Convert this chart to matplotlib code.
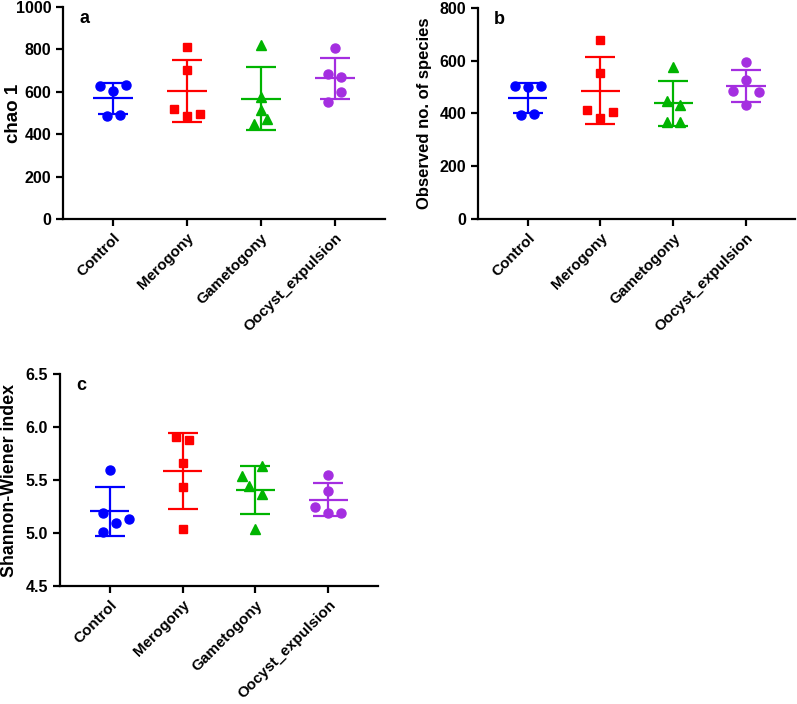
import matplotlib
matplotlib.use('Agg')
import matplotlib.pyplot as plt
import numpy as np

plt.rcParams['font.family'] = ['Liberation Sans', 'DejaVu Sans']
plt.rcParams['font.weight'] = 'bold'

GROUPS = ['Control', 'Merogony', 'Gametogony', 'Oocyst_expulsion']
COLORS = ['#0000ff', '#ff0000', '#00b400', '#a42ee0']
MARKERS = ['o', 's', '^', 'o']

# five replicates per group
CHAO1 = [
    [605, 628, 632, 487, 490],
    [812, 705, 485, 521, 495],
    [819, 576, 516, 450, 474],
    [808, 686, 670, 553, 597],
]

OBSERVED = [
    [498, 502, 503, 395, 396],
    [677, 553, 382, 414, 404],
    [575, 448, 430, 367, 367],
    [594, 526, 484, 480, 430],
]

SHANNON = [
    [5.594, 5.19, 5.135, 5.01, 5.09],
    [5.909, 5.877, 5.657, 5.434, 5.041],
    [5.535, 5.635, 5.446, 5.368, 5.038],
    [5.547, 5.393, 5.186, 5.248, 5.189],
]

FIG_W, FIG_H = 7.97, 7.04
DPI = 100


def spread(vals, ax, ylim, row_px=12.5, step_px=13.0, diam_px=10.0):
    # prism-like scatter: close values share a row, then nudge overlaps
    bbox = ax.get_position()
    px_per_y = bbox.height * FIG_H * DPI / (ylim[1] - ylim[0])
    xl = ax.get_xlim()
    px_per_x = bbox.width * FIG_W * DPI / (xl[1] - xl[0])
    ypx = np.array(vals) * px_per_y
    order = list(np.argsort(ypx, kind='stable'))
    rows = []
    for i in order:
        if rows and ypx[i] - ypx[rows[-1][0]] < row_px:
            rows[-1].append(i)
        else:
            rows.append([i])
    slots = {1: [0], 2: [-0.5, 0.5], 3: [0, -1, 1], 4: [-0.5, 0.5, -1.5, 1.5]}
    xpx = np.zeros(len(vals))
    for r in rows:
        r = sorted(r)
        for k, i in enumerate(r):
            xpx[i] = slots[len(r)][k] * step_px
    placed = []
    for i in order:
        sign = 1 if xpx[i] >= 0 else -1
        while any((xpx[i] - x) ** 2 + (ypx[i] - y) ** 2 < diam_px ** 2 for x, y in placed):
            xpx[i] += sign * step_px / 2
        placed.append((xpx[i], ypx[i]))
    return xpx / px_per_x


def panel(rect, data, ylim, yticks, ylabel, lab_size, letter, fmt=None):
    ax = fig.add_axes(rect)
    ax.set_xlim(0.32, 4.68)
    ax.set_ylim(*ylim)
    for i, vals in enumerate(data):
        x0 = i + 1
        vals = np.array(vals, dtype=float)
        offs = spread(vals, ax, ylim)
        ax.plot(x0 + offs, vals, MARKERS[i], color=COLORS[i],
                ms=6.5 if MARKERS[i] != 's' else 6, clip_on=False, zorder=3)
        m = vals.mean()
        sd = vals.std(ddof=1)
        ax.hlines(m, x0 - 0.27, x0 + 0.27, color=COLORS[i], lw=1.6, zorder=2)
        ax.errorbar(x0, m, yerr=sd, fmt='none', ecolor=COLORS[i],
                    elinewidth=1.6, capsize=11, capthick=1.6, zorder=2)
    ax.set_yticks(yticks)
    if fmt:
        ax.set_yticklabels([fmt % t for t in yticks])
    ax.set_xticks([1, 2, 3, 4])
    ax.set_xticklabels(GROUPS, rotation=45, ha='right', rotation_mode='anchor')
    for s in ['top', 'right']:
        ax.spines[s].set_visible(False)
    for s in ['left', 'bottom']:
        ax.spines[s].set_linewidth(1.6)
    ax.tick_params(width=1.6, length=5)
    ax.tick_params(axis='y', labelsize=11.5)
    ax.tick_params(axis='x', labelsize=11)
    for t in ax.get_xticklabels() + ax.get_yticklabels():
        t.set_fontweight('bold')
    ax.set_ylabel(ylabel, fontsize=lab_size, fontweight='bold')
    ax.text(0.05, 0.985, letter, transform=ax.transAxes, fontsize=13,
            fontweight='bold', va='top', ha='left')
    return ax


fig = plt.figure(figsize=(FIG_W, FIG_H), dpi=DPI)

ax_a = panel([0.079, 0.689, 0.404, 0.301], CHAO1, (0, 1000),
             [0, 200, 400, 600, 800, 1000], 'chao 1', 13.5, 'a')
ax_a.yaxis.set_label_coords(-0.127, 0.5)

ax_b = panel([0.600, 0.689, 0.398, 0.300], OBSERVED, (0, 800),
             [0, 200, 400, 600, 800], 'Observed no. of species', 12, 'b')
ax_b.yaxis.set_label_coords(-0.145, 0.5)

ax_c = panel([0.0753, 0.1676, 0.399, 0.301], SHANNON, (4.5, 6.5),
             [4.5, 5.0, 5.5, 6.0, 6.5], 'Shannon-Wiener index', 12.8, 'c', '%.1f')
ax_c.yaxis.set_label_coords(-0.133, 0.5)

plt.savefig('out.png', dpi=DPI)
